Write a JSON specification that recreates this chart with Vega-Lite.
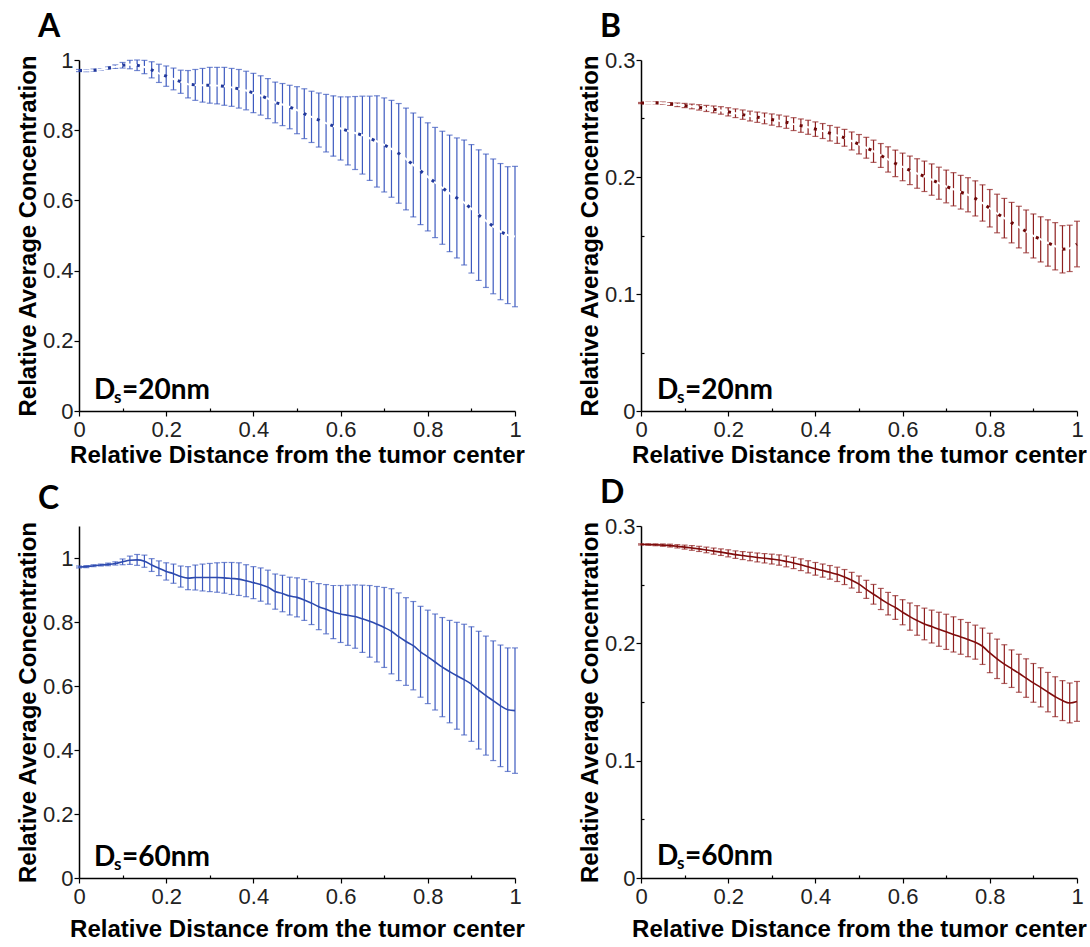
{
  "$schema": "https://vega.github.io/schema/vega-lite/v6.json",
  "background": "white",
  "padding": {"left": 16, "top": 11, "right": 0, "bottom": 0},
  "columns": 2,
  "spacing": {"row": 115, "column": 126},
  "bounds": "flush",
  "config": {
    "view": {"stroke": null},
    "axis": {
      "grid": false,
      "domainColor": "#000000",
      "domainWidth": 1.5,
      "tickColor": "#000000",
      "tickWidth": 1.2,
      "labelFont": "Liberation Sans",
      "labelFontSize": 22,
      "labelColor": "#222222",
      "labelFlush": false,
      "labelOverlap": false,
      "titleFont": "Liberation Sans",
      "titleFontSize": 24,
      "titleFontWeight": "bold",
      "titleColor": "#000000"
    },
    "axisX": {"labelPadding": 3, "titlePadding": 3},
    "axisY": {"labelPadding": 1, "titlePadding": 2},
    "title": {"font": "Lato", "fontSize": 32, "fontWeight": "bold", "anchor": "start", "frame": "group", "dx": -41, "offset": 5, "color": "#000000"}
  },
  "datasets": {
    "A": [
      {"x": 0, "m": 0.970, "e": 0.003}, {"x": 0.0167, "m": 0.970, "e": 0.003}, {"x": 0.0333, "m": 0.971, "e": 0.003},
      {"x": 0.05, "m": 0.973, "e": 0.002}, {"x": 0.0667, "m": 0.977, "e": 0.003}, {"x": 0.0833, "m": 0.981, "e": 0.005},
      {"x": 0.1, "m": 0.985, "e": 0.008}, {"x": 0.1167, "m": 0.987, "e": 0.012}, {"x": 0.1333, "m": 0.985, "e": 0.015},
      {"x": 0.15, "m": 0.980, "e": 0.019}, {"x": 0.1667, "m": 0.972, "e": 0.023}, {"x": 0.1833, "m": 0.962, "e": 0.026},
      {"x": 0.2, "m": 0.954, "e": 0.029}, {"x": 0.2167, "m": 0.946, "e": 0.031}, {"x": 0.2333, "m": 0.938, "e": 0.033},
      {"x": 0.25, "m": 0.931, "e": 0.039}, {"x": 0.2667, "m": 0.929, "e": 0.044}, {"x": 0.2833, "m": 0.928, "e": 0.048},
      {"x": 0.3, "m": 0.928, "e": 0.051}, {"x": 0.3167, "m": 0.927, "e": 0.052}, {"x": 0.3333, "m": 0.925, "e": 0.054},
      {"x": 0.35, "m": 0.922, "e": 0.054}, {"x": 0.3667, "m": 0.918, "e": 0.055}, {"x": 0.3833, "m": 0.913, "e": 0.055},
      {"x": 0.4, "m": 0.906, "e": 0.056}, {"x": 0.4167, "m": 0.899, "e": 0.056}, {"x": 0.4333, "m": 0.890, "e": 0.057},
      {"x": 0.45, "m": 0.879, "e": 0.058}, {"x": 0.4667, "m": 0.873, "e": 0.060}, {"x": 0.4833, "m": 0.866, "e": 0.062},
      {"x": 0.5, "m": 0.857, "e": 0.067}, {"x": 0.5167, "m": 0.847, "e": 0.071}, {"x": 0.5333, "m": 0.838, "e": 0.073},
      {"x": 0.55, "m": 0.829, "e": 0.077}, {"x": 0.5667, "m": 0.820, "e": 0.082}, {"x": 0.5833, "m": 0.812, "e": 0.086},
      {"x": 0.6, "m": 0.805, "e": 0.090}, {"x": 0.6167, "m": 0.798, "e": 0.097}, {"x": 0.6333, "m": 0.792, "e": 0.104},
      {"x": 0.65, "m": 0.786, "e": 0.111}, {"x": 0.6667, "m": 0.777, "e": 0.120}, {"x": 0.6833, "m": 0.768, "e": 0.130},
      {"x": 0.7, "m": 0.758, "e": 0.134}, {"x": 0.7167, "m": 0.747, "e": 0.138}, {"x": 0.7333, "m": 0.734, "e": 0.142},
      {"x": 0.75, "m": 0.718, "e": 0.145}, {"x": 0.7667, "m": 0.701, "e": 0.148}, {"x": 0.7833, "m": 0.684, "e": 0.153},
      {"x": 0.8, "m": 0.667, "e": 0.154}, {"x": 0.8167, "m": 0.651, "e": 0.157}, {"x": 0.8333, "m": 0.636, "e": 0.161},
      {"x": 0.85, "m": 0.620, "e": 0.166}, {"x": 0.8667, "m": 0.607, "e": 0.171}, {"x": 0.8833, "m": 0.594, "e": 0.178},
      {"x": 0.9, "m": 0.576, "e": 0.183}, {"x": 0.9167, "m": 0.558, "e": 0.186}, {"x": 0.9333, "m": 0.542, "e": 0.190},
      {"x": 0.95, "m": 0.526, "e": 0.192}, {"x": 0.9667, "m": 0.511, "e": 0.194}, {"x": 0.9833, "m": 0.501, "e": 0.195},
      {"x": 1, "m": 0.497, "e": 0.200}
    ],
    "B": [
      {"x": 0, "m": 0.2632, "e": 0.0005}, {"x": 0.0167, "m": 0.2633, "e": 0.0006}, {"x": 0.0333, "m": 0.2634, "e": 0.0008},
      {"x": 0.05, "m": 0.2631, "e": 0.001}, {"x": 0.0667, "m": 0.2624, "e": 0.0012}, {"x": 0.0833, "m": 0.2617, "e": 0.0015},
      {"x": 0.1, "m": 0.2611, "e": 0.0018}, {"x": 0.1167, "m": 0.2603, "e": 0.002}, {"x": 0.1333, "m": 0.2595, "e": 0.0023},
      {"x": 0.15, "m": 0.2586, "e": 0.0026}, {"x": 0.1667, "m": 0.2578, "e": 0.0029}, {"x": 0.1833, "m": 0.2569, "e": 0.0032},
      {"x": 0.2, "m": 0.2557, "e": 0.0035}, {"x": 0.2167, "m": 0.2545, "e": 0.0037}, {"x": 0.2333, "m": 0.2533, "e": 0.004},
      {"x": 0.25, "m": 0.2521, "e": 0.0042}, {"x": 0.2667, "m": 0.2511, "e": 0.0044}, {"x": 0.2833, "m": 0.2501, "e": 0.0046},
      {"x": 0.3, "m": 0.2491, "e": 0.0048}, {"x": 0.3167, "m": 0.2480, "e": 0.005}, {"x": 0.3333, "m": 0.2468, "e": 0.0052},
      {"x": 0.35, "m": 0.2452, "e": 0.0055}, {"x": 0.3667, "m": 0.2439, "e": 0.0057}, {"x": 0.3833, "m": 0.2425, "e": 0.006},
      {"x": 0.4, "m": 0.2409, "e": 0.0062}, {"x": 0.4167, "m": 0.2393, "e": 0.0064}, {"x": 0.4333, "m": 0.2374, "e": 0.0066},
      {"x": 0.45, "m": 0.2356, "e": 0.0069}, {"x": 0.4667, "m": 0.2335, "e": 0.0072}, {"x": 0.4833, "m": 0.2308, "e": 0.0077},
      {"x": 0.5, "m": 0.2280, "e": 0.0083}, {"x": 0.5167, "m": 0.2250, "e": 0.0089}, {"x": 0.5333, "m": 0.2220, "e": 0.0095},
      {"x": 0.55, "m": 0.2184, "e": 0.0102}, {"x": 0.5667, "m": 0.2150, "e": 0.0108}, {"x": 0.5833, "m": 0.2117, "e": 0.0113},
      {"x": 0.6, "m": 0.2086, "e": 0.0118}, {"x": 0.6167, "m": 0.2057, "e": 0.0122}, {"x": 0.6333, "m": 0.2030, "e": 0.0126},
      {"x": 0.65, "m": 0.2006, "e": 0.013}, {"x": 0.6667, "m": 0.1978, "e": 0.0134}, {"x": 0.6833, "m": 0.1947, "e": 0.0137},
      {"x": 0.7, "m": 0.1919, "e": 0.014}, {"x": 0.7167, "m": 0.1895, "e": 0.0142}, {"x": 0.7333, "m": 0.1870, "e": 0.0144},
      {"x": 0.75, "m": 0.1848, "e": 0.0146}, {"x": 0.7667, "m": 0.1817, "e": 0.015}, {"x": 0.7833, "m": 0.1778, "e": 0.0155},
      {"x": 0.8, "m": 0.1733, "e": 0.016}, {"x": 0.8167, "m": 0.1688, "e": 0.0165}, {"x": 0.8333, "m": 0.1648, "e": 0.0169},
      {"x": 0.85, "m": 0.1610, "e": 0.0173}, {"x": 0.8667, "m": 0.1572, "e": 0.0178}, {"x": 0.8833, "m": 0.1535, "e": 0.0183},
      {"x": 0.9, "m": 0.1496, "e": 0.0188}, {"x": 0.9167, "m": 0.1467, "e": 0.0193}, {"x": 0.9333, "m": 0.1436, "e": 0.0198},
      {"x": 0.95, "m": 0.1408, "e": 0.0202}, {"x": 0.9667, "m": 0.1382, "e": 0.0202}, {"x": 0.9833, "m": 0.1390, "e": 0.0198},
      {"x": 1, "m": 0.1427, "e": 0.0195}
    ],
    "C": [
      {"x": 0, "m": 0.972, "e": 0.003}, {"x": 0.0167, "m": 0.973, "e": 0.003}, {"x": 0.0333, "m": 0.976, "e": 0.003},
      {"x": 0.05, "m": 0.978, "e": 0.003}, {"x": 0.0667, "m": 0.980, "e": 0.004}, {"x": 0.0833, "m": 0.983, "e": 0.005},
      {"x": 0.1, "m": 0.988, "e": 0.009}, {"x": 0.1167, "m": 0.993, "e": 0.013}, {"x": 0.1333, "m": 0.994, "e": 0.017},
      {"x": 0.15, "m": 0.990, "e": 0.019}, {"x": 0.1667, "m": 0.978, "e": 0.020}, {"x": 0.1833, "m": 0.968, "e": 0.023},
      {"x": 0.2, "m": 0.958, "e": 0.027}, {"x": 0.2167, "m": 0.951, "e": 0.030}, {"x": 0.2333, "m": 0.942, "e": 0.033},
      {"x": 0.25, "m": 0.937, "e": 0.036}, {"x": 0.2667, "m": 0.939, "e": 0.039}, {"x": 0.2833, "m": 0.939, "e": 0.042},
      {"x": 0.3, "m": 0.939, "e": 0.044}, {"x": 0.3167, "m": 0.939, "e": 0.046}, {"x": 0.3333, "m": 0.938, "e": 0.048},
      {"x": 0.35, "m": 0.936, "e": 0.050}, {"x": 0.3667, "m": 0.934, "e": 0.051}, {"x": 0.3833, "m": 0.929, "e": 0.050},
      {"x": 0.4, "m": 0.923, "e": 0.050}, {"x": 0.4167, "m": 0.917, "e": 0.052}, {"x": 0.4333, "m": 0.909, "e": 0.053},
      {"x": 0.45, "m": 0.895, "e": 0.055}, {"x": 0.4667, "m": 0.889, "e": 0.057}, {"x": 0.4833, "m": 0.881, "e": 0.059},
      {"x": 0.5, "m": 0.877, "e": 0.061}, {"x": 0.5167, "m": 0.869, "e": 0.064}, {"x": 0.5333, "m": 0.859, "e": 0.067},
      {"x": 0.55, "m": 0.848, "e": 0.072}, {"x": 0.5667, "m": 0.840, "e": 0.077}, {"x": 0.5833, "m": 0.831, "e": 0.083},
      {"x": 0.6, "m": 0.825, "e": 0.089}, {"x": 0.6167, "m": 0.821, "e": 0.094}, {"x": 0.6333, "m": 0.817, "e": 0.099},
      {"x": 0.65, "m": 0.810, "e": 0.105}, {"x": 0.6667, "m": 0.802, "e": 0.112}, {"x": 0.6833, "m": 0.793, "e": 0.118},
      {"x": 0.7, "m": 0.783, "e": 0.125}, {"x": 0.7167, "m": 0.771, "e": 0.133}, {"x": 0.7333, "m": 0.754, "e": 0.137},
      {"x": 0.75, "m": 0.739, "e": 0.137}, {"x": 0.7667, "m": 0.726, "e": 0.138}, {"x": 0.7833, "m": 0.707, "e": 0.142},
      {"x": 0.8, "m": 0.691, "e": 0.146}, {"x": 0.8167, "m": 0.675, "e": 0.150}, {"x": 0.8333, "m": 0.659, "e": 0.155},
      {"x": 0.85, "m": 0.645, "e": 0.160}, {"x": 0.8667, "m": 0.632, "e": 0.167}, {"x": 0.8833, "m": 0.620, "e": 0.173},
      {"x": 0.9, "m": 0.606, "e": 0.179}, {"x": 0.9167, "m": 0.587, "e": 0.184}, {"x": 0.9333, "m": 0.570, "e": 0.186},
      {"x": 0.95, "m": 0.554, "e": 0.187}, {"x": 0.9667, "m": 0.538, "e": 0.190}, {"x": 0.9833, "m": 0.526, "e": 0.193},
      {"x": 1, "m": 0.523, "e": 0.196}
    ],
    "D": [
      {"x": 0, "m": 0.2843, "e": 0.0005}, {"x": 0.0167, "m": 0.2842, "e": 0.0006}, {"x": 0.0333, "m": 0.2840, "e": 0.0008},
      {"x": 0.05, "m": 0.2837, "e": 0.001}, {"x": 0.0667, "m": 0.2833, "e": 0.0012}, {"x": 0.0833, "m": 0.2827, "e": 0.0014},
      {"x": 0.1, "m": 0.2820, "e": 0.0017}, {"x": 0.1167, "m": 0.2813, "e": 0.002}, {"x": 0.1333, "m": 0.2805, "e": 0.0022},
      {"x": 0.15, "m": 0.2796, "e": 0.0024}, {"x": 0.1667, "m": 0.2786, "e": 0.0026}, {"x": 0.1833, "m": 0.2777, "e": 0.0028},
      {"x": 0.2, "m": 0.2767, "e": 0.003}, {"x": 0.2167, "m": 0.2756, "e": 0.0032}, {"x": 0.2333, "m": 0.2748, "e": 0.0034},
      {"x": 0.25, "m": 0.2740, "e": 0.0036}, {"x": 0.2667, "m": 0.2732, "e": 0.0038}, {"x": 0.2833, "m": 0.2725, "e": 0.004},
      {"x": 0.3, "m": 0.2718, "e": 0.0042}, {"x": 0.3167, "m": 0.2710, "e": 0.0044}, {"x": 0.3333, "m": 0.2698, "e": 0.0046},
      {"x": 0.35, "m": 0.2685, "e": 0.0048}, {"x": 0.3667, "m": 0.2670, "e": 0.005}, {"x": 0.3833, "m": 0.2652, "e": 0.0052},
      {"x": 0.4, "m": 0.2635, "e": 0.0054}, {"x": 0.4167, "m": 0.2620, "e": 0.0056}, {"x": 0.4333, "m": 0.2605, "e": 0.0058},
      {"x": 0.45, "m": 0.2588, "e": 0.0061}, {"x": 0.4667, "m": 0.2565, "e": 0.0064}, {"x": 0.4833, "m": 0.2538, "e": 0.0067},
      {"x": 0.5, "m": 0.2504, "e": 0.007}, {"x": 0.5167, "m": 0.2460, "e": 0.0077}, {"x": 0.5333, "m": 0.2418, "e": 0.0084},
      {"x": 0.55, "m": 0.2378, "e": 0.009}, {"x": 0.5667, "m": 0.2338, "e": 0.0096}, {"x": 0.5833, "m": 0.2305, "e": 0.0101},
      {"x": 0.6, "m": 0.2265, "e": 0.0107}, {"x": 0.6167, "m": 0.2228, "e": 0.0116}, {"x": 0.6333, "m": 0.2195, "e": 0.0126},
      {"x": 0.65, "m": 0.2165, "e": 0.0135}, {"x": 0.6667, "m": 0.2143, "e": 0.014}, {"x": 0.6833, "m": 0.2120, "e": 0.0145},
      {"x": 0.7, "m": 0.2098, "e": 0.015}, {"x": 0.7167, "m": 0.2076, "e": 0.015}, {"x": 0.7333, "m": 0.2055, "e": 0.0148},
      {"x": 0.75, "m": 0.2032, "e": 0.0146}, {"x": 0.7667, "m": 0.2010, "e": 0.0145}, {"x": 0.7833, "m": 0.1975, "e": 0.0155},
      {"x": 0.8, "m": 0.1918, "e": 0.0168}, {"x": 0.8167, "m": 0.1868, "e": 0.0168}, {"x": 0.8333, "m": 0.1823, "e": 0.0165},
      {"x": 0.85, "m": 0.1784, "e": 0.016}, {"x": 0.8667, "m": 0.1745, "e": 0.0162}, {"x": 0.8833, "m": 0.1704, "e": 0.0164},
      {"x": 0.9, "m": 0.1663, "e": 0.0165}, {"x": 0.9167, "m": 0.1625, "e": 0.0167}, {"x": 0.9333, "m": 0.1584, "e": 0.0168},
      {"x": 0.95, "m": 0.1545, "e": 0.017}, {"x": 0.9667, "m": 0.1512, "e": 0.017}, {"x": 0.9833, "m": 0.1492, "e": 0.017},
      {"x": 1, "m": 0.1505, "e": 0.017}
    ]
  },
  "concat": [
    {
      "title": "A",
      "width": 436,
      "height": 351,
      "data": {"name": "A"},
      "encoding": {
        "x": {"field": "x", "type": "quantitative", "scale": {"domain": [0, 1]},
          "axis": {"title": "Relative Distance from the tumor center", "values": [0, 0.1, 0.2, 0.3, 0.4, 0.5, 0.6, 0.7, 0.8, 0.9, 1],
            "labelExpr": "round(datum.value*10) % 2 == 0 ? format(datum.value, '~g') : ''",
            "tickSize": {"condition": {"test": "round(datum.value*10) % 2 == 1", "value": -3}, "value": 5}}}
      },
      "layer": [
        {"mark": {"type": "errorbar", "color": "#3d5abf", "thickness": 1.2, "ticks": {"size": 6, "thickness": 1.2}},
         "encoding": {"y": {"field": "m", "type": "quantitative", "scale": {"domain": [0, 1]},
           "axis": {"title": "Relative Average Concentration", "values": [0, 0.1, 0.2, 0.3, 0.4, 0.5, 0.6, 0.7, 0.8, 0.9, 1],
             "labelExpr": "round(datum.value*10) % 2 == 0 ? format(datum.value, '~g') : ''",
             "tickSize": {"condition": {"test": "round(datum.value*10) % 2 == 1", "value": -3}, "value": 5}}},
           "yError": {"field": "e"}}},
        {"mark": {"type": "line", "color": "white", "strokeWidth": 2}, "encoding": {"y": {"field": "m", "type": "quantitative"}}},
        {"mark": {"type": "line", "color": "#22399c", "strokeWidth": 3, "strokeDash": [3, 11.6]}, "encoding": {"y": {"field": "m", "type": "quantitative"}}},
        {"transform": [{"filter": "datum.x == 0"}], "mark": {"type": "text", "text": "D", "font": "Lato", "fontWeight": "bold", "fontSize": 28, "align": "left", "baseline": "alphabetic", "dx": 15, "color": "black"},
         "encoding": {"y": {"datum": 0.034, "type": "quantitative"}}},
        {"transform": [{"filter": "datum.x == 0"}], "mark": {"type": "text", "text": "s", "font": "Lato", "fontWeight": "bold", "fontSize": 17, "align": "left", "baseline": "alphabetic", "dx": 35, "dy": 4, "color": "black"},
         "encoding": {"y": {"datum": 0.034, "type": "quantitative"}}},
        {"transform": [{"filter": "datum.x == 0"}], "mark": {"type": "text", "text": "=20nm", "font": "Lato", "fontWeight": "bold", "fontSize": 28, "align": "left", "baseline": "alphabetic", "dx": 43, "color": "black"},
         "encoding": {"y": {"datum": 0.034, "type": "quantitative"}}}
      ]
    },
    {
      "title": "B",
      "width": 436,
      "height": 351,
      "data": {"name": "B"},
      "encoding": {
        "x": {"field": "x", "type": "quantitative", "scale": {"domain": [0, 1]},
          "axis": {"title": "Relative Distance from the tumor center", "values": [0, 0.1, 0.2, 0.3, 0.4, 0.5, 0.6, 0.7, 0.8, 0.9, 1],
            "labelExpr": "round(datum.value*10) % 2 == 0 ? format(datum.value, '~g') : ''",
            "tickSize": {"condition": {"test": "round(datum.value*10) % 2 == 1", "value": -3}, "value": 5}}}
      },
      "layer": [
        {"mark": {"type": "errorbar", "color": "#8e1f1f", "thickness": 1.2, "ticks": {"size": 6, "thickness": 1.2}},
         "encoding": {"y": {"field": "m", "type": "quantitative", "scale": {"domain": [0, 0.3]},
           "axis": {"title": "Relative Average Concentration", "values": [0, 0.05, 0.1, 0.15, 0.2, 0.25, 0.3],
             "labelExpr": "round(datum.value*20) % 2 == 0 ? format(datum.value, '~g') : ''",
             "tickSize": {"condition": {"test": "round(datum.value*20) % 2 == 1", "value": -3}, "value": 5}}},
           "yError": {"field": "e"}}},
        {"mark": {"type": "line", "color": "white", "strokeWidth": 2}, "encoding": {"y": {"field": "m", "type": "quantitative"}}},
        {"mark": {"type": "line", "color": "#6e0808", "strokeWidth": 3, "strokeDash": [3, 11.6]}, "encoding": {"y": {"field": "m", "type": "quantitative"}}},
        {"transform": [{"filter": "datum.x == 0"}], "mark": {"type": "text", "text": "D", "font": "Lato", "fontWeight": "bold", "fontSize": 28, "align": "left", "baseline": "alphabetic", "dx": 16, "color": "black"},
         "encoding": {"y": {"datum": 0.0103, "type": "quantitative"}}},
        {"transform": [{"filter": "datum.x == 0"}], "mark": {"type": "text", "text": "s", "font": "Lato", "fontWeight": "bold", "fontSize": 17, "align": "left", "baseline": "alphabetic", "dx": 36, "dy": 4, "color": "black"},
         "encoding": {"y": {"datum": 0.0103, "type": "quantitative"}}},
        {"transform": [{"filter": "datum.x == 0"}], "mark": {"type": "text", "text": "=20nm", "font": "Lato", "fontWeight": "bold", "fontSize": 28, "align": "left", "baseline": "alphabetic", "dx": 44, "color": "black"},
         "encoding": {"y": {"datum": 0.0103, "type": "quantitative"}}}
      ]
    },
    {
      "title": "C",
      "width": 436,
      "height": 352,
      "data": {"name": "C"},
      "encoding": {
        "x": {"field": "x", "type": "quantitative", "scale": {"domain": [0, 1]},
          "axis": {"title": "Relative Distance from the tumor center", "titlePadding": 10, "values": [0, 0.1, 0.2, 0.3, 0.4, 0.5, 0.6, 0.7, 0.8, 0.9, 1],
            "labelExpr": "round(datum.value*10) % 2 == 0 ? format(datum.value, '~g') : ''",
            "tickSize": {"condition": {"test": "round(datum.value*10) % 2 == 1", "value": -3}, "value": 5}}}
      },
      "layer": [
        {"mark": {"type": "errorbar", "color": "#3d5abf", "thickness": 1.2, "ticks": {"size": 6, "thickness": 1.2}},
         "encoding": {"y": {"field": "m", "type": "quantitative", "scale": {"domain": [0, 1.05]},
           "axis": {"title": "Relative Average Concentration", "values": [0, 0.1, 0.2, 0.3, 0.4, 0.5, 0.6, 0.7, 0.8, 0.9, 1],
             "labelExpr": "round(datum.value*10) % 2 == 0 ? format(datum.value, '~g') : ''",
             "tickSize": {"condition": {"test": "round(datum.value*10) % 2 == 1", "value": -3}, "value": 5}}},
           "yError": {"field": "e"}}},
        {"mark": {"type": "line", "color": "#2d4aae", "strokeWidth": 1.6, "interpolate": "monotone"}, "encoding": {"y": {"field": "m", "type": "quantitative"}}},
        {"transform": [{"filter": "datum.x == 0"}], "mark": {"type": "text", "text": "D", "font": "Lato", "fontWeight": "bold", "fontSize": 28, "align": "left", "baseline": "alphabetic", "dx": 15, "color": "black"},
         "encoding": {"y": {"datum": 0.039, "type": "quantitative"}}},
        {"transform": [{"filter": "datum.x == 0"}], "mark": {"type": "text", "text": "s", "font": "Lato", "fontWeight": "bold", "fontSize": 17, "align": "left", "baseline": "alphabetic", "dx": 35, "dy": 4, "color": "black"},
         "encoding": {"y": {"datum": 0.039, "type": "quantitative"}}},
        {"transform": [{"filter": "datum.x == 0"}], "mark": {"type": "text", "text": "=60nm", "font": "Lato", "fontWeight": "bold", "fontSize": 28, "align": "left", "baseline": "alphabetic", "dx": 43, "color": "black"},
         "encoding": {"y": {"datum": 0.039, "type": "quantitative"}}}
      ]
    },
    {
      "title": "D",
      "width": 436,
      "height": 352,
      "data": {"name": "D"},
      "encoding": {
        "x": {"field": "x", "type": "quantitative", "scale": {"domain": [0, 1]},
          "axis": {"title": "Relative Distance from the tumor center", "titlePadding": 10, "values": [0, 0.1, 0.2, 0.3, 0.4, 0.5, 0.6, 0.7, 0.8, 0.9, 1],
            "labelExpr": "round(datum.value*10) % 2 == 0 ? format(datum.value, '~g') : ''",
            "tickSize": {"condition": {"test": "round(datum.value*10) % 2 == 1", "value": -3}, "value": 5}}}
      },
      "layer": [
        {"mark": {"type": "errorbar", "color": "#8e1f1f", "thickness": 1.2, "ticks": {"size": 6, "thickness": 1.2}},
         "encoding": {"y": {"field": "m", "type": "quantitative", "scale": {"domain": [0, 0.3]},
           "axis": {"title": "Relative Average Concentration", "values": [0, 0.05, 0.1, 0.15, 0.2, 0.25, 0.3],
             "labelExpr": "round(datum.value*20) % 2 == 0 ? format(datum.value, '~g') : ''",
             "tickSize": {"condition": {"test": "round(datum.value*20) % 2 == 1", "value": -3}, "value": 5}}},
           "yError": {"field": "e"}}},
        {"mark": {"type": "line", "color": "#7f0c0c", "strokeWidth": 1.6, "interpolate": "monotone"}, "encoding": {"y": {"field": "m", "type": "quantitative"}}},
        {"transform": [{"filter": "datum.x == 0"}], "mark": {"type": "text", "text": "D", "font": "Lato", "fontWeight": "bold", "fontSize": 28, "align": "left", "baseline": "alphabetic", "dx": 16, "color": "black"},
         "encoding": {"y": {"datum": 0.0111, "type": "quantitative"}}},
        {"transform": [{"filter": "datum.x == 0"}], "mark": {"type": "text", "text": "s", "font": "Lato", "fontWeight": "bold", "fontSize": 17, "align": "left", "baseline": "alphabetic", "dx": 36, "dy": 4, "color": "black"},
         "encoding": {"y": {"datum": 0.0111, "type": "quantitative"}}},
        {"transform": [{"filter": "datum.x == 0"}], "mark": {"type": "text", "text": "=60nm", "font": "Lato", "fontWeight": "bold", "fontSize": 28, "align": "left", "baseline": "alphabetic", "dx": 44, "color": "black"},
         "encoding": {"y": {"datum": 0.0111, "type": "quantitative"}}}
      ]
    }
  ]
}
